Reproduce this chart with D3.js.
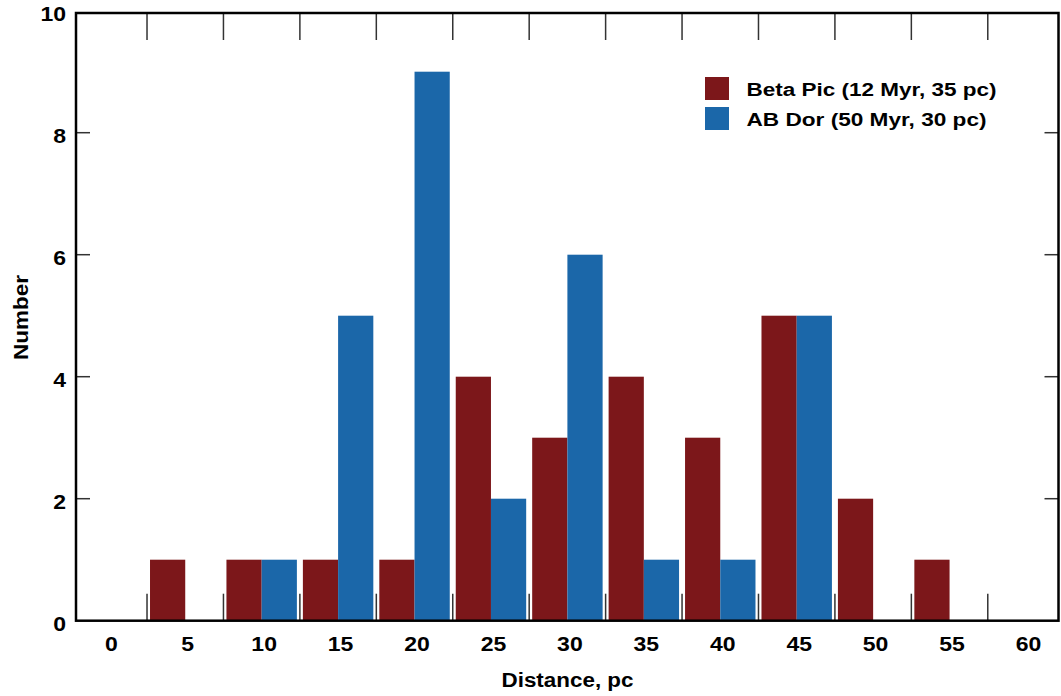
<!DOCTYPE html>
<html>
<head>
<meta charset="utf-8">
<script src="https://cdn.jsdelivr.net/npm/d3@7"></script>
<style>
  html, body { margin: 0; padding: 0; background: #fff; }
  svg { display: block; font-family: "Liberation Sans", Arial, Helvetica, sans-serif; }
</style>
</head>
<body>
<svg id="chart" width="1061" height="696"></svg>
<script>
const distances = [0, 5, 10, 15, 20, 25, 30, 35, 40, 45, 50, 55, 60];
const betaPic   = [0, 1, 1, 1, 1, 4, 3, 4, 3, 5, 2, 1, 0];
const abDor     = [0, 0, 1, 5, 9, 2, 6, 1, 1, 5, 0, 0, 0];
const seriesNames = ["Beta Pic (12 Myr, 35 pc)", "AB Dor (50 Myr, 30 pc)"];
const yTicks = [0, 2, 4, 6, 8, 10];
const binEdges = [2.5, 7.5, 12.5, 17.5, 22.5, 27.5, 32.5, 37.5, 42.5, 47.5, 52.5, 57.5];
const colors = ["#7c171a", "#1b67a9"];

const svg = d3.select("#chart");
const L = 76, R = 1058.5, T = 13, B = 620.7;

const x = d3.scaleLinear().domain([0, 60]).range([108.8, 1026]);
const y = d3.scaleLinear().domain([0, 10]).range([B, 10.7]);
const unit = x(1) - x(0);
const pad = 3;

// bars
const series = [betaPic, abDor];
series.forEach((vals, si) => {
  svg.append("g").selectAll("rect")
    .data(distances.map((d, i) => ({d, v: vals[i]})).filter(o => o.v > 0))
    .join("rect")
    .attr("x", o => si === 0 ? x(o.d - 2.5) + pad : x(o.d))
    .attr("width", unit * 2.5 - pad)
    .attr("y", o => y(o.v))
    .attr("height", o => y(0) - y(o.v))
    .attr("fill", colors[si]);
});

// tick marks (inward)
const tg = svg.append("g").attr("stroke", "#333").attr("stroke-width", 1.5);
binEdges.forEach(e => {
  tg.append("line").attr("x1", x(e)).attr("x2", x(e)).attr("y1", B).attr("y2", B - 27);
  tg.append("line").attr("x1", x(e)).attr("x2", x(e)).attr("y1", T).attr("y2", T + 27);
});
yTicks.slice(1, -1).forEach(t => {
  tg.append("line").attr("x1", L).attr("x2", L + 14).attr("y1", y(t)).attr("y2", y(t));
  tg.append("line").attr("x1", R).attr("x2", R - 14).attr("y1", y(t)).attr("y2", y(t));
});

// frame
svg.append("rect").attr("x", L).attr("y", T).attr("width", R - L).attr("height", B - T)
  .attr("fill", "none").attr("stroke", "#000").attr("stroke-width", 2.5);

// tick labels
svg.append("g").selectAll("text").data(distances).join("text")
  .attr("x", d => x(d) + 2.5).attr("y", 650.7)
  .attr("text-anchor", "middle").attr("font-size", 19.5).attr("font-weight", "bold")
  .attr("textLength", d => String(d).length * 12.8).attr("lengthAdjust", "spacingAndGlyphs")
  .text(d => d);
svg.append("g").selectAll("text").data(yTicks).join("text")
  .attr("x", 66).attr("y", d => y(d) + 10.5)
  .attr("text-anchor", "end").attr("font-size", 19.5).attr("font-weight", "bold")
  .attr("textLength", d => String(d).length * 12.8).attr("lengthAdjust", "spacingAndGlyphs")
  .text(d => d);

// axis titles
svg.append("text").attr("x", 567.5).attr("y", 687)
  .attr("text-anchor", "middle").attr("font-size", 19.5).attr("font-weight", "bold")
  .attr("textLength", 132).attr("lengthAdjust", "spacingAndGlyphs")
  .text("Distance, pc");
svg.append("text").attr("transform", "translate(28,317.5) rotate(-90)")
  .attr("text-anchor", "middle").attr("font-size", 19.5).attr("font-weight", "bold")
  .attr("textLength", 85).attr("lengthAdjust", "spacingAndGlyphs")
  .text("Number");

// legend
const lg = svg.append("g");
const legendWidths = [250, 240];
seriesNames.forEach((n, i) => {
  lg.append("rect").attr("x", 705).attr("y", 77 + i * 30).attr("width", 24).attr("height", 23)
    .attr("fill", colors[i]);
  lg.append("text").attr("x", 746.5).attr("y", 95.5 + i * 30)
    .attr("font-size", 17.5).attr("font-weight", "bold")
    .attr("textLength", legendWidths[i]).attr("lengthAdjust", "spacingAndGlyphs")
    .text(n);
});
</script>
</body>
</html>
